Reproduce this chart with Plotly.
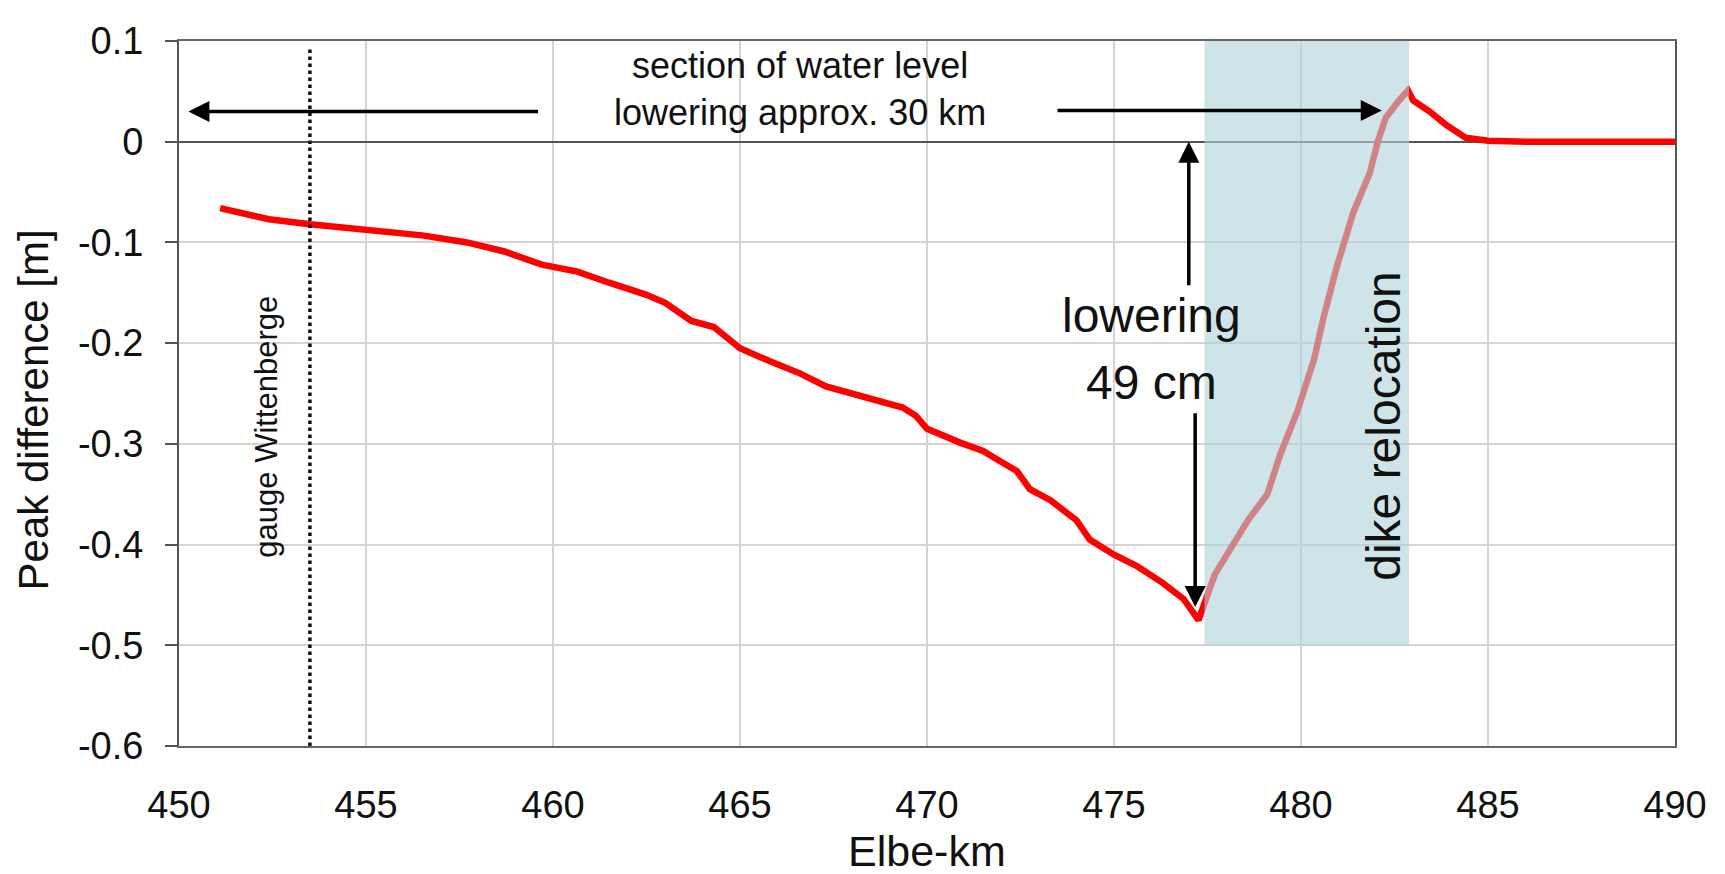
import plotly.graph_objects as go

# ---- data ----
elbe_km = [451.1, 452.4, 453.5, 455.0, 456.5, 457.7, 458.7, 459.7, 460.0, 460.65,
           461.5, 462.5, 463.0, 463.7, 464.3, 465.0, 465.8, 466.6, 467.3, 468.3,
           469.35, 469.7, 470.0, 470.9, 471.5, 471.9, 472.4, 472.75, 473.3, 474.0,
           474.35, 475.0, 475.6, 476.3, 476.86, 477.26, 477.45, 477.69, 478.15, 478.6,
           479.1, 479.45, 479.9, 480.35, 480.6, 480.95, 481.4, 481.84, 482.06, 482.27,
           482.6, 482.86, 483.0, 483.44, 483.87, 484.4, 485.0, 486.0, 488.0, 490.0]
peak_diff = [-0.066, -0.077, -0.082, -0.087, -0.093, -0.100, -0.109, -0.122, -0.124, -0.129,
             -0.140, -0.152, -0.160, -0.178, -0.184, -0.205, -0.218, -0.230, -0.243, -0.254,
             -0.264, -0.272, -0.285, -0.299, -0.307, -0.316, -0.327, -0.345, -0.356, -0.376,
             -0.395, -0.410, -0.421, -0.438, -0.454, -0.475, -0.455, -0.430, -0.402, -0.375,
             -0.350, -0.310, -0.268, -0.216, -0.175, -0.125, -0.070, -0.031, 0.001, 0.024,
             0.040, 0.051, 0.041, 0.030, 0.017, 0.004, 0.001, 0.0, 0.0, 0.0]

x_ticks = [450, 455, 460, 465, 470, 475, 480, 485, 490]
y_ticks = [0.1, 0.0, -0.1, -0.2, -0.3, -0.4, -0.5, -0.6]
y_tick_labels = ["0.1", "0", "-0.1", "-0.2", "-0.3", "-0.4", "-0.5", "-0.6"]

gauge_km = 453.5
dike_start_km, dike_end_km = 477.42, 482.89
dike_bottom, dike_top = -0.5, 0.1
section_left_km, section_right_km = 450.25, 482.16
lowering_km = 477.0
lowering_min = -0.462

FONT = "Liberation Sans, Arial, sans-serif"
INK = "#111111"

fig = go.Figure()
fig.add_trace(go.Scatter(x=elbe_km, y=peak_diff, mode="lines",
                         line=dict(color="#ff0000", width=6.5),
                         showlegend=False, hoverinfo="skip"))

shapes = []
# dike relocation shaded band (drawn above the line, translucent)
shapes.append(dict(type="rect", xref="x", yref="y", x0=dike_start_km, x1=dike_end_km,
                   y0=dike_bottom, y1=dike_top, fillcolor="rgb(178,211,218)",
                   opacity=0.62, line=dict(width=0), layer="above"))
# gauge Wittenberge dotted line
shapes.append(dict(type="line", xref="x", yref="y", x0=gauge_km, x1=gauge_km,
                   y0=y_ticks[-1], y1=y_ticks[0] - 0.005,
                   line=dict(color=INK, width=3.5, dash="dot"), layer="above"))
# small tick marks on the zero line
for t in x_ticks[1:-1]:
    shapes.append(dict(type="line", xref="x", yref="y", x0=t, x1=t, y0=0, y1=-0.009,
                       line=dict(color="#555555", width=2), layer="below"))

annotations = []
arrow_style = dict(showarrow=True, arrowhead=2, arrowsize=1.2, arrowwidth=3.5,
                   arrowcolor="#000000", axref="x", ayref="y", xref="x", yref="y", text="")
annotations.append(dict(x=section_left_km, y=0.030, ax=459.64, ay=0.030, **arrow_style))
annotations.append(dict(x=section_right_km, y=0.031, ax=473.45, ay=0.031, **arrow_style))
annotations.append(dict(x=lowering_km, y=0.0, ax=lowering_km, ay=-0.144, **arrow_style))
annotations.append(dict(x=lowering_km + 0.17, y=lowering_min, ax=lowering_km + 0.17, ay=-0.268, **arrow_style))


def label(x, y, text, size, angle=0, ref="x"):
    return dict(x=x, y=y, text=text, textangle=angle, showarrow=False,
                xref=ref, yref="y", font=dict(family=FONT, size=size, color=INK))


annotations.append(label(466.6, 0.052, "section of water level<br>lowering approx. 30 km", 36))
annotations.append(label(476.0, -0.173, "lowering", 48))
annotations.append(label(476.0, -0.239, "49 cm", 48))
annotations.append(label(482.22, -0.282, "dike relocation", 48, -90))
annotations.append(label(452.35, -0.283, "gauge Wittenberge", 31, -90))

# axis titles
annotations.append(dict(x=0.5, y=0, xref="paper", yref="paper", yanchor="middle",
                        yshift=-105, showarrow=False, text="Elbe-km",
                        font=dict(family=FONT, size=43, color=INK)))
annotations.append(dict(x=0, y=0.476, xref="paper", yref="paper", xanchor="center",
                        xshift=-146, showarrow=False, text="Peak difference [m]",
                        textangle=-90, font=dict(family=FONT, size=42, color=INK)))

# the page body adds an 8 px margin, so the figure is sized to fit the window
fig.update_layout(
    width=1717, height=866,
    margin=dict(l=171, r=50, t=16, b=128),
    paper_bgcolor="white", plot_bgcolor="white",
    font=dict(family=FONT, color=INK),
    shapes=shapes, annotations=annotations,
    xaxis=dict(range=[450, 490], tickvals=x_ticks, showgrid=True,
               gridcolor="#d4d4d4", gridwidth=2, showline=True, linecolor="#666666",
               linewidth=2, mirror=True, ticks="", zeroline=False,
               tickfont=dict(size=38), ticklabelstandoff=24,
               ticklabeloverflow="allow"),
    yaxis=dict(range=[-0.6, 0.1], tickvals=y_ticks, ticktext=y_tick_labels,
               showgrid=True, gridcolor="#d4d4d4", gridwidth=2, showline=True,
               linecolor="#555555", linewidth=2, mirror=True, ticks="outside",
               ticklen=12, tickwidth=2, tickcolor="#555555",
               zeroline=True, zerolinecolor="#555555", zerolinewidth=2,
               tickfont=dict(size=38), ticklabelstandoff=14,
               ticklabeloverflow="allow"),
)

fig.write_html("out.html")
